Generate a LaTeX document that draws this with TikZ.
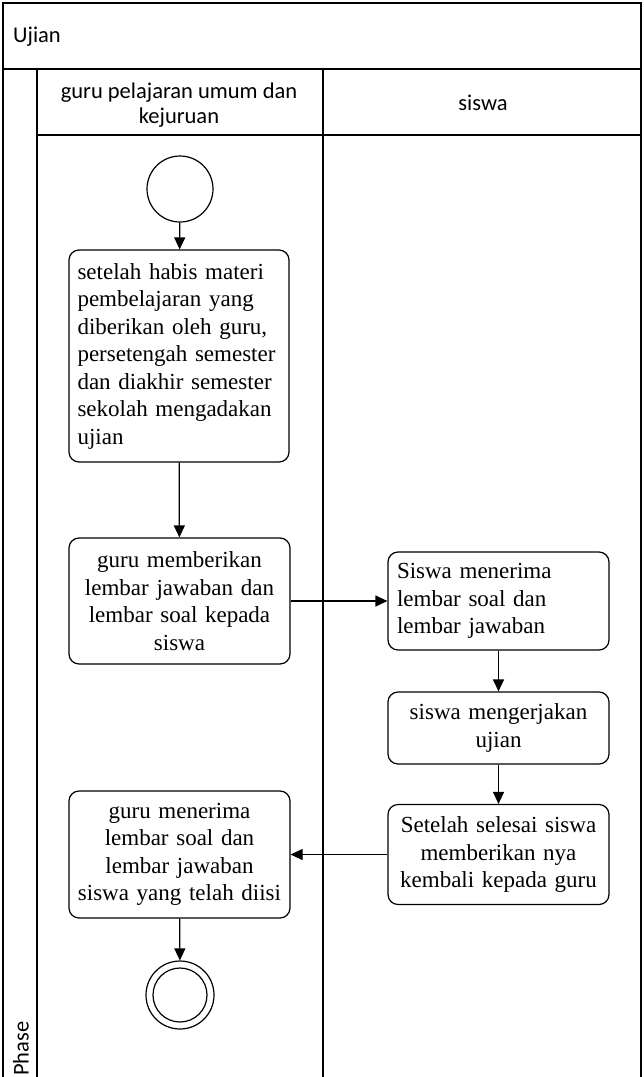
\documentclass[tikz,border=0pt]{standalone}
\usepackage{fontspec}
\setmainfont{Liberation Serif}
\newfontfamily\calibrifont{Carlito}
\usetikzlibrary{arrows.meta}
\begin{document}
\begin{tikzpicture}[x=1pt,y=-1pt,
  frameline/.style={line width=1.4pt},
  actbox/.style={draw, line width=1.2pt, rounded corners=10pt, inner sep=0pt,
    font=\fontsize{23}{27.5}\selectfont},
  lefttext/.style={text width=203pt, align=left},
  centertext/.style={text width=216pt, align=center},
  flow/.style={line width=1.2pt, -{Triangle[length=12pt,width=11pt]}},
  headtext/.style={font=\calibrifont\fontsize{22.5}{25.5}\selectfont, inner sep=0pt}
]
\useasboundingbox (0,0) rectangle (643,1077);
% frame
\draw[frameline] (3,1090) -- (3,3) -- (641,3) -- (641,1090);
\draw[frameline] (3,69) -- (641,69);
\draw[frameline] (37,69) -- (37,1090);
\draw[frameline] (37,135) -- (641,135);
\draw[line width=1.8pt] (323,69) -- (323,1090);
% header texts
\node[headtext, anchor=west] (title) at (13,37) {Ujian};
\node[headtext, align=center] (lane1) at (179,105) {guru pelajaran umum dan\\kejuruan};
\node[headtext, anchor=base] (lane2) at (483,110) {siswa};
\node[headtext, rotate=90, anchor=west] (phase) at (21,1076) {Phase};
% start
\node[draw, circle, line width=1.2pt, minimum size=66pt, inner sep=0pt] (start) at (180,189) {};
% activities
\node[actbox, lefttext, minimum width=220pt, minimum height=212pt] (a1) at (179,356)
  {setelah habis materi\\pembelajaran yang\\diberikan oleh guru,\\persetengah semester\\dan diakhir semester\\sekolah mengadakan\\ujian};
\node[actbox, centertext, minimum width=221pt, minimum height=126pt] (a2) at (179.5,601)
  {guru memberikan\\lembar jawaban dan\\lembar soal kepada\\siswa};
\node[actbox, lefttext, minimum width=221pt, minimum height=98pt] (a3) at (498.5,601)
  {Siswa menerima\\lembar soal dan\\lembar jawaban};
\node[actbox, centertext, minimum width=221pt, minimum height=72pt] (a4) at (498.5,728)
  {siswa mengerjakan\\ujian};
\node[actbox, centertext, minimum width=221pt, minimum height=100pt] (a5) at (498.5,854.5)
  {Setelah selesai siswa\\memberikan nya\\kembali kepada guru};
\node[actbox, centertext, minimum width=221pt, minimum height=127pt] (a6) at (179.5,854.5)
  {guru menerima\\lembar soal dan\\lembar jawaban\\siswa yang telah diisi};
% end
\node[draw, circle, line width=1.2pt, minimum size=68pt, inner sep=0pt] (finish) at (180,995) {};
\node[draw, circle, line width=1.2pt, minimum size=54pt, inner sep=0pt] (finishin) at (180,995) {};
% flows
\draw[flow] (start) -- (a1);
\draw[flow] (a1) -- (a2);
\draw[flow] (a2) -- (a3);
\draw[flow] (a3) -- (a4);
\draw[flow] (a4) -- (a5);
\draw[flow] (a5) -- (a6);
\draw[flow] (a6) -- (finish);
\end{tikzpicture}
\end{document}
